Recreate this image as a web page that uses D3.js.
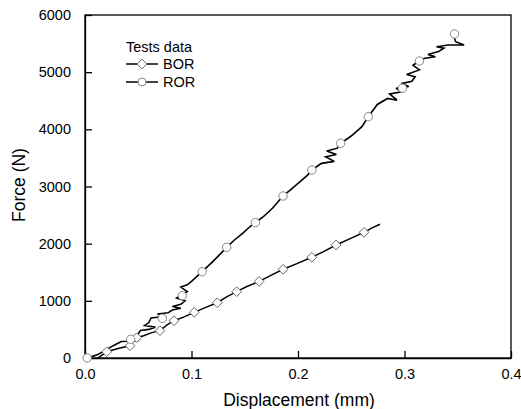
<!DOCTYPE html>
<html><head><meta charset="utf-8">
<script src="https://cdn.jsdelivr.net/npm/d3@7"></script>
<style>body{margin:0;background:#fff}svg{display:block}text{font-family:"Liberation Sans",Arial,sans-serif}</style>
</head><body>
<script>
// Data (displacement mm, force N)
const borX = [0.012,0.016,0.0204,0.026,0.032,0.0423,0.0485,0.055,0.062,0.0704,0.077,0.0836,0.093,0.1026,0.114,0.1242,0.133,0.1424,0.152,0.1635,0.175,0.186,0.199,0.2129,0.224,0.2357,0.248,0.262,0.270,0.277];
const borY = [0,50,110,140,170,215,355,390,440,478,580,652,720,799,890,967,1070,1160,1250,1340,1450,1552,1650,1762,1860,1977,2080,2199,2280,2339];
const borMarkX = [0.0204,0.0423,0.0485,0.0704,0.0836,0.1026,0.1242,0.1424,0.1635,0.186,0.2129,0.2357,0.262];
const borMarkY = [110,215,355,478,652,799,967,1160,1340,1552,1762,1977,2199];

const rorX = [0.000,0.006,0.012,0.018,0.024,0.030,0.034,0.050,0.040,0.046,0.050,0.052,0.060,0.066,0.056,0.060,0.062,0.076,0.068,0.078,0.082,0.090,0.082,0.090,0.094,0.086,0.092,0.096,0.090,0.096,0.100,0.110,0.118,0.126,0.133,0.140,0.148,0.155,0.160,0.168,0.176,0.186,0.194,0.202,0.209,0.213,0.220,0.2222,0.234,0.226,0.236,0.227,0.237,0.238,0.240,0.250,0.260,0.266,0.2745,0.284,0.293,0.286,0.298,0.292,0.304,0.297,0.307,0.310,0.302,0.314,0.308,0.315,0.319,0.329,0.322,0.332,0.337,0.330,0.341,0.356,0.348,0.346];
const rorY = [0,20,60,120,190,250,290,300,330,360,420,480,500,540,570,620,700,730,770,790,840,870,900,940,1000,1050,1120,1160,1240,1280,1340,1510,1650,1800,1936,2060,2180,2300,2367,2480,2620,2834,2960,3084,3200,3289,3380,3405,3440,3520,3560,3620,3670,3725,3756,3883,4046,4221,4435,4540,4510,4620,4660,4720,4750,4800,4840,4920,4960,5040,5120,5212,5242,5270,5310,5360,5420,5445,5474,5474,5532,5649];
const rorMarkX = [0.002,0.0429,0.0726,0.0914,0.110,0.133,0.160,0.186,0.213,0.240,0.266,0.298,0.314,0.347];
const rorMarkY = [0,327,694,1090,1510,1936,2367,2834,3289,3756,4221,4720,5195,5668];

const xTicks = [0.0,0.1,0.2,0.3,0.4];
const yTicks = [0,1000,2000,3000,4000,5000,6000];
const legendTitle = "Tests data";
const seriesNames = ["BOR","ROR"];

const W=521,H=409;
const m={l:85,t:15,r:511,b:358};
const svg=d3.select("body").append("svg").attr("width",W).attr("height",H);
const x=d3.scaleLinear().domain([0,0.4]).range([m.l,m.r]);
const y=d3.scaleLinear().domain([0,6000]).range([m.b,m.t]);

// frame
svg.append("rect").attr("x",m.l).attr("y",m.t).attr("width",m.r-m.l).attr("height",m.b-m.t)
  .attr("fill","none").attr("stroke","#000").attr("stroke-width",1.3);

const xa=svg.append("g").attr("transform",`translate(0,${m.b})`)
  .call(d3.axisBottom(x).tickValues(xTicks).tickFormat(d3.format(".1f")).tickSizeInner(-7).tickSizeOuter(0).tickPadding(11));
const ya=svg.append("g").attr("transform",`translate(${m.l},0)`)
  .call(d3.axisLeft(y).tickValues(yTicks).tickFormat(d3.format("d")).tickSizeInner(-7).tickSizeOuter(0).tickPadding(14));
[xa,ya].forEach(a=>{a.select(".domain").attr("stroke","#000").attr("stroke-width",1.3);
  a.selectAll(".tick line").attr("stroke","#000").attr("stroke-width",1.3);
  a.selectAll("text").attr("font-size","14.5px").attr("fill","#000").style("font-family",'"Liberation Sans",Arial,sans-serif');});

svg.append("text").attr("x",299).attr("y",406).attr("text-anchor","middle").attr("font-size","17.5px").text("Displacement (mm)");
svg.append("text").attr("transform","translate(25,185) rotate(-90)").attr("text-anchor","middle").attr("font-size","17.5px").text("Force (N)");

const line=d3.line().x(d=>x(d[0])).y(d=>y(d[1]));
const bor=borX.map((v,i)=>[v,borY[i]]);
const ror=rorX.map((v,i)=>[v,rorY[i]]);
svg.append("path").attr("d",line(bor)).attr("fill","none").attr("stroke","#000").attr("stroke-width",1.5);
svg.append("path").attr("d",line(ror)).attr("fill","none").attr("stroke","#000").attr("stroke-width",1.6).attr("stroke-linejoin","miter").attr("stroke-miterlimit",3);

const diamond=d3.symbol().type(d3.symbolDiamond2).size(60);
svg.selectAll(".bm").data(borMarkX.map((v,i)=>[v,borMarkY[i]])).join("path")
  .attr("d",diamond).attr("transform",d=>`translate(${x(d[0])},${y(d[1])})`)
  .attr("fill","#fff").attr("stroke","#666").attr("stroke-width",1);
svg.selectAll(".rm").data(rorMarkX.map((v,i)=>[v,rorMarkY[i]])).join("circle")
  .attr("cx",d=>x(d[0])).attr("cy",d=>y(d[1])).attr("r",4.2)
  .attr("fill","#fff").attr("stroke","#888").attr("stroke-width",1);

// legend
const lg=svg.append("g");
lg.append("text").attr("x",126).attr("y",52).attr("font-size","14.5px").text(legendTitle);
[64,82].forEach((ly,i)=>{
  lg.append("line").attr("x1",126).attr("x2",158).attr("y1",ly).attr("y2",ly).attr("stroke","#000").attr("stroke-width",1.5);
  if(i===0) lg.append("path").attr("d",diamond).attr("transform",`translate(142,${ly})`).attr("fill","#fff").attr("stroke","#666");
  else lg.append("circle").attr("cx",142).attr("cy",ly).attr("r",4).attr("fill","#fff").attr("stroke","#888");
  lg.append("text").attr("x",163).attr("y",ly+5).attr("font-size","14.5px").text(seriesNames[i]);
});
</script>
</body></html>
